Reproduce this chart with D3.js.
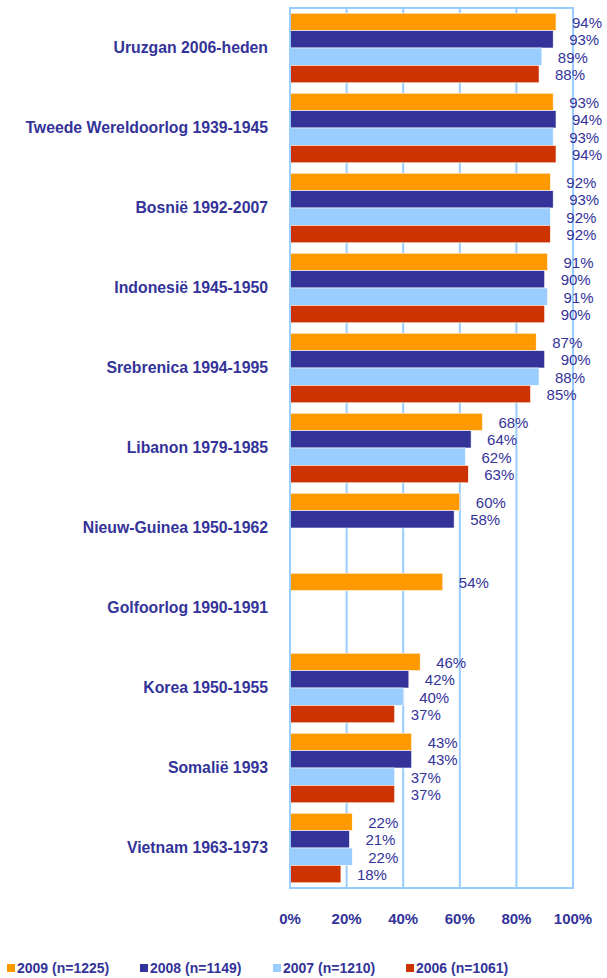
<!DOCTYPE html>
<html>
<head>
<meta charset="utf-8">
<script src="https://cdn.jsdelivr.net/npm/d3@7"></script>
<style>
  body { margin: 0; background: #fff; }
  svg { display: block; font-family: Arial, "Liberation Sans", sans-serif; }
</style>
</head>
<body>
<svg id="chart" width="607" height="978"></svg>
<script>
var categories = [
    'Uruzgan 2006-heden',
    'Tweede Wereldoorlog 1939-1945',
    'Bosnië 1992-2007',
    'Indonesië 1945-1950',
    'Srebrenica 1994-1995',
    'Libanon 1979-1985',
    'Nieuw-Guinea 1950-1962',
    'Golfoorlog 1990-1991',
    'Korea 1950-1955',
    'Somalië 1993',
    'Vietnam 1963-1973'
];
var seriesNames = ['2009 (n=1225)', '2008 (n=1149)', '2007 (n=1210)', '2006 (n=1061)'];
var v2009 = [94, 93, 92, 91, 87, 68, 60, 54, 46, 43, 22];
var v2008 = [93, 94, 93, 90, 90, 64, 58, null, 42, 43, 21];
var v2007 = [89, 93, 92, 91, 88, 62, null, null, 40, 37, 22];
var v2006 = [88, 94, 92, 90, 85, 63, null, null, 37, 37, 18];
var ticks = [0, 20, 40, 60, 80, 100];
var colors = ['#FF9900', '#333399', '#99CCFF', '#CC3300'];

var series = [v2009, v2008, v2007, v2006];
var textColor = '#333399';
var gridColor = '#99CCFF';

var svg = d3.select('#chart');
// note: "top" is taken by window.top, so plot edges get their own names
var plotLeft = 290, plotRight = 573, plotTop = 8, plotBottom = 888;

var x = d3.scaleLinear().domain([0, 100]).range([plotLeft, plotRight]);
var y = d3.scaleBand().domain(categories).range([plotTop, plotBottom]).paddingInner(0.13).paddingOuter(0.065);
var ySub = d3.scaleBand().domain(d3.range(4)).range([0, y.bandwidth()]);

// grid lines
svg.selectAll('line.grid')
    .data(ticks.slice(1, -1))
    .enter()
    .append('line')
    .attr('x1', function (d) { return x(d); })
    .attr('x2', function (d) { return x(d); })
    .attr('y1', plotTop)
    .attr('y2', plotBottom)
    .attr('stroke', gridColor)
    .attr('stroke-width', 2);

// bars
var cells = [];
series.forEach(function (s, si) {
    s.forEach(function (v, ci) {
        if (v !== null) cells.push({ s: si, c: categories[ci], v: v });
    });
});

svg.selectAll('rect.bar')
    .data(cells)
    .enter()
    .append('rect')
    .attr('x', x(0))
    .attr('y', function (d) { return y(d.c) + ySub(d.s); })
    .attr('width', function (d) { return x(d.v) - x(0); })
    .attr('height', ySub.bandwidth())
    .attr('fill', function (d) { return colors[d.s]; })
    .attr('stroke', '#fff')
    .attr('stroke-width', 0.6);

// plot frame
svg.append('rect')
    .attr('x', plotLeft)
    .attr('y', plotTop)
    .attr('width', plotRight - plotLeft)
    .attr('height', plotBottom - plotTop)
    .attr('fill', 'none')
    .attr('stroke', gridColor)
    .attr('stroke-width', 2);

// value labels
svg.selectAll('text.val')
    .data(cells)
    .enter()
    .append('text')
    .attr('x', function (d) { return x(d.v) + 16; })
    .attr('y', function (d) { return y(d.c) + ySub(d.s) + ySub.bandwidth() / 2 + 6; })
    .attr('fill', textColor)
    .attr('font-size', '15px')
    .text(function (d) { return d.v + '%'; });

// category labels
svg.selectAll('text.cat')
    .data(categories)
    .enter()
    .append('text')
    .attr('x', 268)
    .attr('y', function (d) { return y(d) + y.bandwidth() / 2 + 5; })
    .attr('text-anchor', 'end')
    .attr('font-weight', 'bold')
    .attr('font-size', '15.8px')
    .attr('fill', textColor)
    .text(function (d) { return d; });

// x axis labels
svg.selectAll('text.tick')
    .data(ticks)
    .enter()
    .append('text')
    .attr('x', function (d) { return x(d); })
    .attr('y', 924)
    .attr('text-anchor', 'middle')
    .attr('font-weight', 'bold')
    .attr('font-size', '15px')
    .attr('fill', textColor)
    .text(function (d) { return d + '%'; });

// legend
var legendX = [7, 140, 273, 406];
var legend = svg.selectAll('g.legend')
    .data(seriesNames)
    .enter()
    .append('g')
    .attr('transform', function (d, i) { return 'translate(' + legendX[i] + ',968)'; });

legend.append('rect')
    .attr('x', 0)
    .attr('y', -4)
    .attr('width', 8)
    .attr('height', 8)
    .attr('fill', function (d, i) { return colors[i]; });

legend.append('text')
    .attr('x', 10)
    .attr('y', 5)
    .attr('font-weight', 'bold')
    .attr('font-size', '14px')
    .attr('fill', textColor)
    .text(function (d) { return d; });
</script>
</body>
</html>
